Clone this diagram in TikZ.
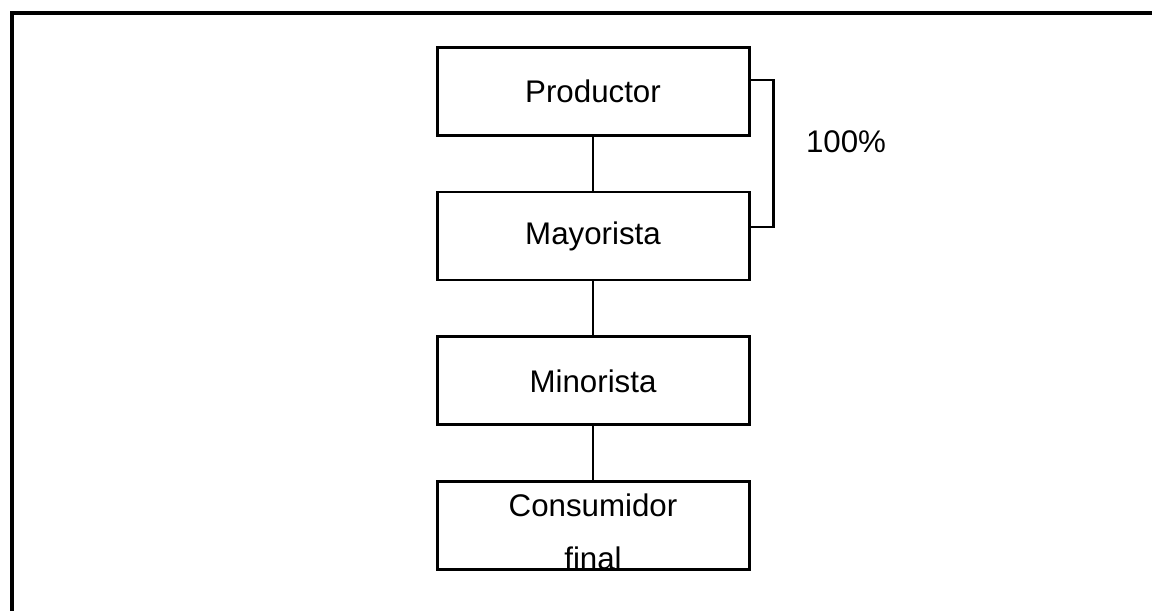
\documentclass[tikz,border=0pt]{standalone}
\usepackage{fontspec}
\setmainfont{Liberation Sans}
\usetikzlibrary{positioning}

\begin{document}
\begin{tikzpicture}[
node distance=1.08cm,
box/.style={draw, line width=1.7pt, minimum width=6.24cm, minimum height=1.76cm, font=\fontsize{17.8}{21}\selectfont},
lbl/.style={font=\fontsize{17.8}{21}\selectfont, inner sep=0pt},
link/.style={line width=1.5pt}
]
\useasboundingbox (0,0) rectangle (23.04,-12.2);
% outer frame (only top and left edges are in view)
\draw[line width=2.4pt] (0.24,-12.4) |- (23.3,-0.26);

\node[box] (prod) at (11.86,-1.82) {Productor};
\node[box, below=of prod] (may) {Mayorista};
\node[box, below=of may] (min) {Minorista};
\node[box, below=of min] (cons) {};
\node[lbl, anchor=base] (consA) at ([yshift=-0.72cm]cons.north) {Consumidor};
\node[lbl, anchor=base] (consB) at ([yshift=-1.78cm]cons.north) {final};

\draw[link] (prod) -- (may);
\draw[link] (may) -- (min);
\draw[link] (min) -- (cons);

% bracket with share
\draw[link] ([yshift=0.22cm]prod.east) -- ++(0.46,0) |- ([yshift=0.18cm]may.east);
\node[lbl] (pct) at (16.92,-2.84) {100\%};
\end{tikzpicture}
\end{document}
